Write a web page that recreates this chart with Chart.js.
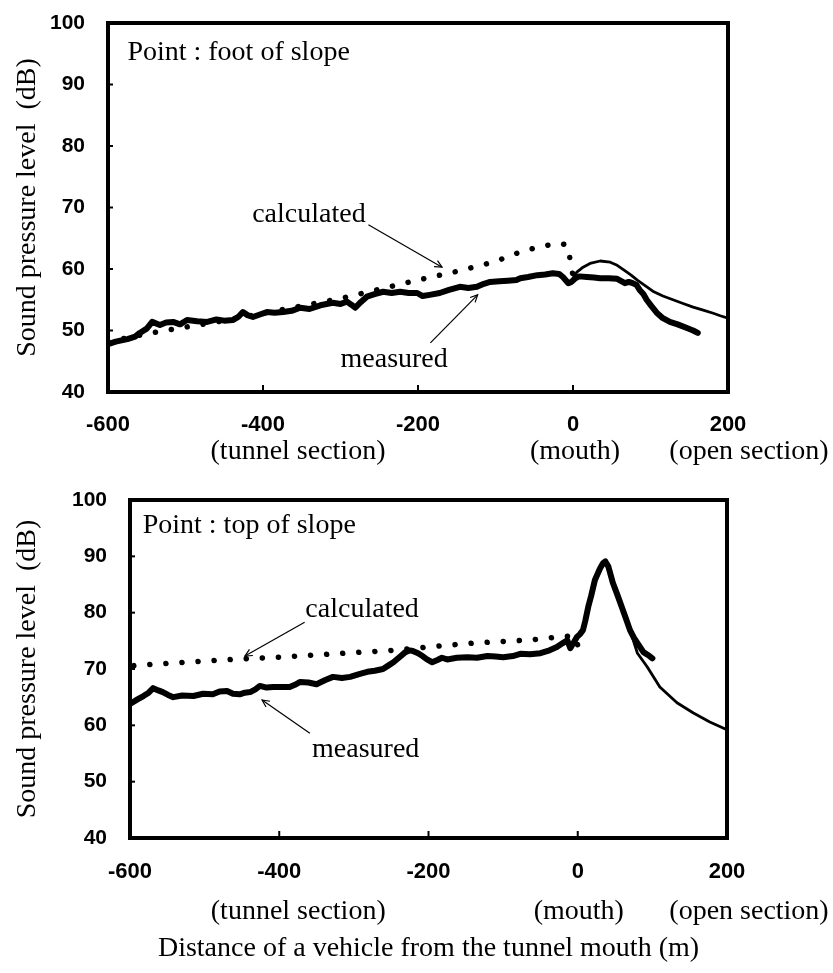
<!DOCTYPE html>
<html>
<head>
<meta charset="utf-8">
<script src="https://cdn.jsdelivr.net/npm/chart.js@4.4.0/dist/chart.umd.min.js"></script>
<style>
html,body{margin:0;padding:0;background:#fff;}
#wrap{position:relative;width:833px;height:973px;overflow:hidden;}
canvas{position:absolute;left:0;}
#c1{top:0;}
#c2{top:470px;}
</style>
</head>
<body>
<div id="wrap">
<canvas id="c1" width="833" height="470"></canvas>
<canvas id="c2" width="833" height="503"></canvas>
</div>
<script>
// ---------- shared axis data ----------
const xTickValues = [-600, -400, -200, 0, 200];
const yTickValues = [40, 50, 60, 70, 80, 90, 100];
const sectionLabels = ['(tunnel section)', '(mouth)', '(open section)'];
const sectionTicks = [-400, 0, 200];
const yTitle = 'Sound pressure level  (dB)';
const xTitle = 'Distance of a vehicle from the tunnel mouth (m)';

// ---------- panel 1: foot of slope ----------
const footMeasured = [
  [-600,47.8],[-590,48.2],[-575,48.6],[-565,49.0],[-559,49.6],[-550,50.3],[-543,51.4],[-533,50.9],
  [-525,51.3],[-516,51.4],[-507,51.0],[-498,51.7],[-485,51.5],[-472,51.4],[-460,51.8],[-450,51.6],
  [-439,51.7],[-432,52.2],[-426,53.0],[-420,52.5],[-413,52.2],[-404,52.6],[-395,53.0],[-385,52.9],
  [-374,53.0],[-363,53.2],[-352,53.7],[-340,53.5],[-326,54.1],[-318,54.3],[-310,54.5],[-300,54.3],
  [-292,54.7],[-286,54.2],[-281,53.7],[-274,54.6],[-266,55.5],[-256,55.9],[-245,56.3],[-234,56.1],
  [-223,56.3],[-212,56.1],[-201,56.1],[-194,55.6],[-185,55.8],[-172,56.1],[-160,56.6],[-146,57.1],
  [-135,56.9],[-124,57.1],[-115,57.6],[-107,57.9],[-95,58.0],[-84,58.1],[-73,58.2],[-68,58.5],
  [-58,58.7],[-46,59.0],[-36,59.1],[-26,59.3],[-18,59.2],[-13,58.7],[-6,57.7],[-2,57.9],
  [3,58.5],[8,58.8],[18,58.7],[27,58.6],[35,58.5],[46,58.5],[57,58.4],[67,57.7],
  [72,57.9],[77,57.7],[82,57.4],[86,56.6],[91,55.9],[95,55.0],[101,54.0],[108,52.9],
  [116,52.0],[125,51.4],[135,51.0],[147,50.4],[155,50.0],[161,49.6]
];
const footCalcTunnel = [
  [-600,48.2],[-540,49.7],[-450,51.6],[-400,52.8],[-350,54.0],[-300,55.2],[-250,56.7],
  [-200,58.2],[-150,59.6],[-100,61.2],[-79,62.3],[-59,63.1],[-39,63.7],[-18,64.2],
  [-8,63.9],[-5,62.8],[-3,60.5],[0,59.0]
];
const footCalcOpen = [
  [0,58.5],[5,59.5],[13,60.3],[22,60.9],[35,61.3],[48,61.1],[57,60.6],[65,59.9],[75,59.0],
  [83,58.2],[93,57.3],[103,56.4],[116,55.6],[129,55.0],[142,54.4],[155,53.8],[168,53.3],
  [181,52.8],[190,52.4],[200,52.0]
];

// ---------- panel 2: top of slope ----------
const topMeasured = [
  [-600,63.8],[-590,64.6],[-582,65.2],[-575,65.8],[-569,66.6],[-562,66.2],[-556,65.9],[-549,65.4],
  [-542,65.0],[-530,65.3],[-515,65.2],[-502,65.6],[-489,65.5],[-480,66.0],[-470,66.1],[-462,65.6],
  [-453,65.5],[-446,65.8],[-439,65.9],[-432,66.4],[-426,67.0],[-417,66.7],[-408,66.8],[-397,66.8],
  [-386,66.8],[-379,67.2],[-372,67.7],[-361,67.6],[-350,67.3],[-339,68.0],[-328,68.6],[-316,68.4],
  [-305,68.6],[-293,69.1],[-282,69.5],[-272,69.7],[-261,70.0],[-254,70.6],[-247,71.2],[-239,72.1],
  [-231,73.0],[-225,73.3],[-221,73.2],[-214,72.8],[-208,72.3],[-202,71.7],[-195,71.2],[-188,71.6],
  [-182,72.0],[-175,71.7],[-162,72.0],[-148,72.1],[-135,72.0],[-121,72.3],[-110,72.2],[-100,72.1],
  [-87,72.3],[-77,72.7],[-64,72.6],[-50,72.8],[-40,73.2],[-28,73.9],[-20,74.6],[-14,75.1],
  [-10,73.7],[-5,74.8],[-1,75.7],[3,76.2],[7,76.9],[10,78.5],[14,81.0],[18,83.0],
  [23,85.8],[27,87.0],[30,87.9],[34,88.8],[37,89.1],[41,88.2],[47,85.3],[53,83.2],
  [59,81.0],[65,78.8],[70,76.9],[75,75.6],[80,74.6],[84,73.8],[88,73.0],[94,72.5],[100,71.9]
];
const topCalcTunnel = [
  [-595,70.6],[-550,71.0],[-500,71.4],[-450,71.8],[-400,72.1],[-350,72.5],[-300,72.9],
  [-250,73.3],[-200,73.9],[-150,74.5],[-100,74.9],[-60,75.2],[-40,75.5],[-17,75.8],
  [-4,75.8],[0,74.2],[1,73.0]
];
const topCalcOpen = [
  [0,76.0],[7,77.0],[14,81.0],[23,85.8],[30,87.9],[37,89.0],[47,85.3],[59,81.0],[70,76.9],
  [80,72.8],[93,70.4],[110,66.8],[133,64.0],[155,62.2],[177,60.6],[200,59.2]
];

// ---------- helpers ----------
const toXY = arr => arr.map(p => ({x: p[0], y: p[1]}));
const SERIF = '"Liberation Serif", "Times New Roman", serif';
const SANS = '"Liberation Sans", Arial, sans-serif';

function arrow(ctx, x1, y1, x2, y2) {
  ctx.beginPath();
  ctx.moveTo(x1, y1); ctx.lineTo(x2, y2); ctx.stroke();
  const ang = Math.atan2(y2 - y1, x2 - x1);
  const L = 8, w = 0.45;
  ctx.beginPath();
  ctx.moveTo(x2 - L * Math.cos(ang - w), y2 - L * Math.sin(ang - w));
  ctx.lineTo(x2, y2);
  ctx.lineTo(x2 - L * Math.cos(ang + w), y2 - L * Math.sin(ang + w));
  ctx.stroke();
}

const decorPlugin = {
  id: 'decor',
  afterDraw(chart, args, opts) {
    const {ctx, chartArea: a} = chart;
    const xs = chart.scales.x, ys = chart.scales.y;
    ctx.save();
    ctx.strokeStyle = '#000';
    ctx.fillStyle = '#000';
    // frame
    ctx.lineWidth = 4;
    ctx.strokeRect(a.left, a.top, a.right - a.left, a.bottom - a.top);
    // inner tick marks
    ctx.lineWidth = 2;
    xs.ticks.forEach(t => {
      if (t.value > xs.min && t.value < xs.max) {
        const px = xs.getPixelForValue(t.value);
        ctx.beginPath(); ctx.moveTo(px, a.bottom); ctx.lineTo(px, a.bottom - 7); ctx.stroke();
      }
    });
    ys.ticks.forEach(t => {
      if (t.value > ys.min && t.value < ys.max) {
        const py = ys.getPixelForValue(t.value);
        ctx.beginPath(); ctx.moveTo(a.left, py); ctx.lineTo(a.left + 5, py); ctx.stroke();
      }
    });
    // notes
    ctx.font = '28px ' + SERIF;
    ctx.textAlign = 'left';
    ctx.textBaseline = 'alphabetic';
    (opts.notes || []).forEach(n => {
      ctx.fillText(n.text, xs.getPixelForValue(n.x), ys.getPixelForValue(n.y));
    });
    // arrows
    ctx.lineWidth = 1.2;
    (opts.arrows || []).forEach(r => {
      arrow(ctx, xs.getPixelForValue(r.from[0]), ys.getPixelForValue(r.from[1]),
                 xs.getPixelForValue(r.to[0]), ys.getPixelForValue(r.to[1]));
    });
    // section labels under the tick labels
    ctx.textAlign = 'center';
    ctx.textBaseline = 'middle';
    sectionLabels.forEach((s, i) => {
      ctx.fillText(s, xs.getPixelForValue(sectionTicks[i]) + opts.sectionDx[i], a.bottom + opts.sectionDy);
    });
    ctx.restore();
  }
};

function makeChart(canvasId, measured, calcTunnel, calcOpen, geo, decor, showXTitle) {
  return new Chart(document.getElementById(canvasId), {
    type: 'line',
    data: {
      datasets: [
        {label: 'measured', data: toXY(measured), borderColor: '#000', borderWidth: 6,
         borderJoinStyle: 'round', borderCapStyle: 'round', pointRadius: 0, tension: 0, order: 0},
        {label: 'calculated', data: toXY(calcTunnel), borderColor: '#000', borderWidth: 5.5,
         borderDash: [0.1, 16], borderCapStyle: 'round', pointRadius: 0, tension: 0, order: 1},
        {label: 'calculated (open)', data: toXY(calcOpen), borderColor: '#000', borderWidth: 2.8,
         borderJoinStyle: 'round', pointRadius: 0, tension: 0, order: 2}
      ]
    },
    options: {
      responsive: false,
      animation: false,
      events: [],
      layout: {padding: {left: 0, right: geo.padRight, top: geo.padTop, bottom: 0}},
      plugins: {legend: {display: false}, tooltip: {enabled: false}, decor: decor},
      scales: {
        x: {
          type: 'linear', min: -600, max: 200,
          afterBuildTicks: s => { s.ticks = xTickValues.map(v => ({value: v})); },
          afterFit: s => { s.height = geo.xHeight; s.paddingLeft = 0; s.paddingRight = 0; },
          grid: {display: false, drawTicks: false, tickLength: 0},
          border: {display: false},
          ticks: {padding: geo.xPad, color: '#000', maxRotation: 0, autoSkip: false,
                  font: {family: SANS, weight: 'bold', size: 22},
                  callback: v => String(v)},
          title: {display: showXTitle, text: xTitle, color: '#000',
                  font: {family: SERIF, size: 28}, padding: {top: 0, bottom: 8}}
        },
        y: {
          type: 'linear', min: 40, max: 100,
          afterBuildTicks: s => { s.ticks = yTickValues.map(v => ({value: v})); },
          afterFit: s => { s.width = geo.yWidth; s.paddingTop = 0; s.paddingBottom = 0; },
          grid: {display: false, drawTicks: false, tickLength: 0},
          border: {display: false},
          ticks: {padding: 23, color: '#000', autoSkip: false,
                  font: {family: SANS, weight: 'bold', size: 21},
                  callback: v => String(v)},
          title: {display: true, text: yTitle, color: '#000',
                  font: {family: SERIF, size: 28}, padding: {top: 11, bottom: 0}}
        }
      }
    },
    plugins: [decorPlugin]
  });
}

makeChart('c1', footMeasured, footCalcTunnel, footCalcOpen,
  {padRight: 105, padTop: 23, xHeight: 78, yWidth: 108, xPad: 20},
  {
    notes: [
      {text: 'Point : foot of slope', x: -575, y: 94.0},
      {text: 'calculated', x: -414, y: 67.6},
      {text: 'measured', x: -300, y: 44.1}
    ],
    arrows: [
      {from: [-264, 67.2], to: [-169, 60.3]},
      {from: [-184, 48.0], to: [-123, 55.8]}
    ],
    sectionDx: [35, 2, 21],
    sectionDy: 60
  }, false);

makeChart('c2', topMeasured, topCalcTunnel, topCalcOpen,
  {padRight: 106, padTop: 30, xHeight: 135, yWidth: 130, xPad: 21},
  {
    notes: [
      {text: 'Point : top of slope', x: -583, y: 94.1},
      {text: 'calculated', x: -365, y: 79.2},
      {text: 'measured', x: -356, y: 54.4}
    ],
    arrows: [
      {from: [-366, 78.3], to: [-446, 72.3]},
      {from: [-359, 58.6], to: [-423, 64.5]}
    ],
    sectionDx: [19, 1, 22],
    sectionDy: 74
  }, true);
</script>
</body>
</html>
